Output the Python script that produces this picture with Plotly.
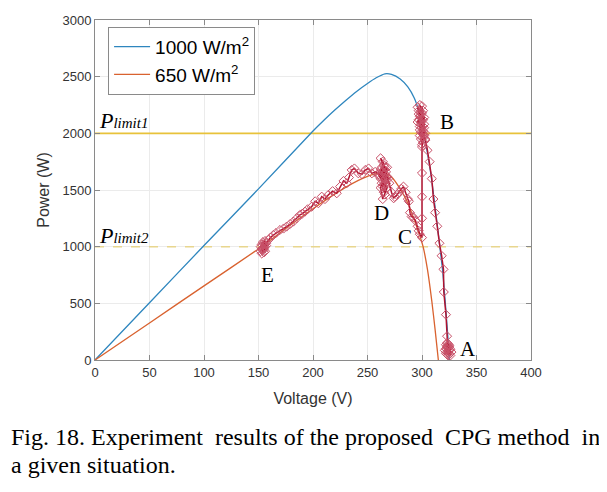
import plotly.graph_objects as go

# PV curve at 1000 W/m2
v1000 = [0, 50, 100, 150, 200, 210, 220, 230, 240, 250, 258, 266, 272, 280, 287, 293, 297, 300, 304, 308, 312, 316, 319, 321, 323, 324.5, 325]
p1000 = [0, 505, 1010, 1510, 2020, 2115, 2205, 2290, 2370, 2440, 2490, 2525, 2520, 2480, 2410, 2310, 2200, 2080, 1880, 1650, 1350, 1030, 780, 550, 300, 100, 0]

# PV curve at 650 W/m2
v650 = [0, 50, 100, 150, 160, 175, 200, 225, 245, 258, 265, 272, 280, 287, 292, 297, 301, 305, 309, 312, 315]
p650 = [0, 327, 654, 980, 1050, 1160, 1335, 1495, 1600, 1645, 1650, 1615, 1510, 1385, 1260, 1125, 1000, 800, 520, 270, 0]

# Experimental CPG trajectory
traj_v = [324, 323, 325, 322, 326, 324, 321, 325, 323, 326, 322, 324, 325, 323, 327, 322, 324, 325, 323, 324,
          323, 322, 320, 319.7, 318, 316, 314, 312, 310.5, 309, 307, 305, 303,
          301, 299, 302, 298, 300, 297, 301, 299, 302, 298, 300, 296, 301, 299, 303, 298, 300, 302, 297, 299,
          301, 298, 300, 302, 296, 299, 301, 298, 300, 303, 299, 297, 301, 300,
          300, 300, 300, 300,
          298, 297, 296, 294, 292, 290.5, 289, 288, 287, 285, 283, 281, 279, 277, 275, 274, 272,
          270, 268, 266, 264, 262, 265, 267, 263, 265, 268, 266, 264, 262, 264, 266, 263, 261, 265, 267, 263,
          265, 267, 269, 262, 264, 266, 268, 264, 262, 260,
          257, 254, 251, 248, 245, 241.6, 238, 235.5, 233, 231, 228, 224.8, 221.8, 218, 214, 211, 208, 204.9,
          202, 198.8, 195, 192.6, 190, 188, 185, 182, 179, 175.8, 173, 169.7, 166, 163.6, 161, 159,
          157, 155, 153, 156, 154, 152, 155, 157, 153, 154, 156, 152, 155, 154, 156, 153, 155]
traj_p = [80, 120, 55, 100, 40, 140, 85, 115, 50, 95, 135, 65, 130, 95, 70, 60, 105, 85, 150, 40,
          210, 400, 600, 800, 920, 1030, 1180, 1300, 1420, 1600, 1750, 1850, 1950,
          2000, 2100, 1980, 2150, 2050, 2200, 2120, 1950, 2080, 2250, 2180, 2230, 2020, 2160, 1940, 2060, 1900, 2140, 2120, 2010,
          2200, 1980, 2240, 2050, 2100, 2180, 1920, 2030, 2130, 2000, 2080, 2170, 1960, 1880,
          1650, 1440, 1250, 1080,
          1110, 1140, 1180, 1230, 1260, 1265, 1300, 1400, 1420, 1480, 1530, 1510, 1480, 1456, 1440, 1427, 1480,
          1560, 1620, 1700, 1750, 1780, 1680, 1600, 1650, 1550, 1520, 1460, 1420, 1520, 1600, 1640, 1700, 1620, 1720, 1660, 1560,
          1480, 1560, 1600, 1680, 1530, 1600, 1700, 1660, 1600, 1640,
          1660, 1647, 1690, 1677, 1640, 1647, 1690, 1677, 1610, 1560, 1580, 1530, 1471, 1490, 1456, 1420, 1441, 1383,
          1400, 1353, 1330, 1309, 1290, 1280, 1250, 1221, 1200, 1177, 1160, 1147, 1120, 1103, 1080, 1059,
          1030, 1000, 980, 960, 1040, 1000, 950, 1010, 1020, 970, 1050, 960, 1020, 990, 1000, 940, 980]

p_limit1 = 2000
p_limit2 = 1000

point_labels = ["A", "B", "C", "D", "E"]
label_v = [342, 323, 284.5, 262.5, 158.5]
label_p = [97, 2100, 1086, 1297, 750]

NB = "\u00a0"
caption1 = ("Fig. 18. Experiment" + NB + " results of the proposed" + NB +
            " CPG method" + NB + " in")
caption2 = "a given situation."

fig = go.Figure()

fig.add_trace(go.Scatter(x=[0, 400], y=[p_limit1, p_limit1], mode="lines",
                         line=dict(color="#E8C23A", width=1.6), showlegend=False, hoverinfo="skip"))
fig.add_trace(go.Scatter(x=[0, 400], y=[p_limit2, p_limit2], mode="lines",
                         line=dict(color="#E8D68E", width=1.5, dash="dash"), showlegend=False, hoverinfo="skip"))

fig.add_trace(go.Scatter(x=v1000, y=p1000, mode="lines", name="1000 W/m<sup>2</sup>",
                         line=dict(color="#2E86BE", width=1.3, shape="spline", smoothing=0.6)))
fig.add_trace(go.Scatter(x=v650, y=p650, mode="lines", name="650 W/m<sup>2</sup>",
                         line=dict(color="#D9622F", width=1.3, shape="spline", smoothing=0.6)))

fig.add_trace(go.Scatter(x=traj_v, y=traj_p, mode="lines+markers", showlegend=False,
                         line=dict(color="#B0122F", width=1.5),
                         marker=dict(symbol="diamond-open", size=7, color="#C85068",
                                     line=dict(width=1))))

for t, vx, py in zip(point_labels, label_v, label_p):
    fig.add_annotation(x=vx, y=py, text=t, showarrow=False,
                       font=dict(family="Liberation Serif", size=21, color="black"))

fig.add_annotation(x=1.5, y=2110, xanchor="left", text="<i>P<span style='font-size:15px'>limit1</span></i>",
                   showarrow=False, font=dict(family="Liberation Serif", size=22, color="black"))
fig.add_annotation(x=1.5, y=1095, xanchor="left", text="<i>P<span style='font-size:15px'>limit2</span></i>",
                   showarrow=False, font=dict(family="Liberation Serif", size=22, color="black"))

fig.add_annotation(xref="paper", yref="paper", x=-0.198, y=-0.226, xanchor="left", yanchor="middle",
                   text=caption1, showarrow=False,
                   font=dict(family="Liberation Serif", size=24, color="black"))
fig.add_annotation(xref="paper", yref="paper", x=-0.198, y=-0.309, xanchor="left", yanchor="middle",
                   text=caption2, showarrow=False,
                   font=dict(family="Liberation Serif", size=24, color="black"))

axis_common = dict(showgrid=True, gridcolor="#EBEBEB", gridwidth=1, zeroline=False,
                   showline=True, linecolor="#8A8A8A", linewidth=1, mirror="ticks",
                   ticks="inside", ticklen=5, tickcolor="#8A8A8A", automargin=False,
                   tickfont=dict(family="Liberation Sans", size=13, color="#333333"))

fig.update_layout(
    width=599, height=484,
    paper_bgcolor="white", plot_bgcolor="white",
    margin=dict(l=87, r=76, t=12, b=132),
    xaxis=dict(range=[0, 400], dtick=50, title=dict(text="Voltage (V)", standoff=14,
               font=dict(family="Liberation Sans", size=16, color="#333333")), **axis_common),
    yaxis=dict(range=[0, 3000], dtick=500, title=dict(text="Power (W)", standoff=8,
               font=dict(family="Liberation Sans", size=16, color="#333333")), **axis_common),
    legend=dict(x=0.03, y=0.98, xanchor="left", yanchor="top", bgcolor="white",
                bordercolor="#8A8A8A", borderwidth=1,
                font=dict(family="Liberation Sans", size=19, color="black"),
                itemwidth=36, tracegroupgap=4),
    showlegend=True,
)

fig.write_html("out.html")
